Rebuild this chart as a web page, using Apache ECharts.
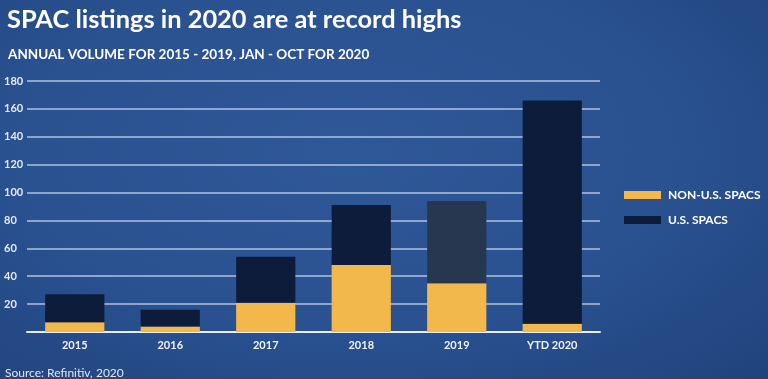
<!DOCTYPE html>
<html><head><meta charset="utf-8">
<script src="https://cdn.jsdelivr.net/npm/echarts@6/dist/echarts.min.js"></script>
<style>
html,body{margin:0;padding:0;width:768px;height:379px;overflow:hidden;}
body{background:radial-gradient(ellipse at 45% 40%, #2f5898 0%, #2a5190 55%, #1f437c 100%);}
#c{width:768px;height:379px;}
</style></head>
<body><div id="c"></div>
<script>
const categories = ['2015','2016','2017','2018','2019','YTD 2020'];
const nonUS = [7, 4, 21, 48, 35, 6];
const us = [20, 12, 33, 43, 59, 160];
const yTicks = [0, 20, 40, 60, 80, 100, 120, 140, 160, 180];
const seriesNames = ['NON-U.S. SPACS', 'U.S. SPACS'];

const FONT = 'Lato';
const chart = echarts.init(document.getElementById('c'), null, {renderer:'canvas'});
chart.setOption({
  backgroundColor: 'transparent',
  textStyle: {fontFamily: FONT},
  title: [
    {text: 'SPAC listings in 2020 are at record highs', left: 2, top: 2,
     textStyle: {color:'#ffffff', fontSize: 25.4, fontWeight: 'bold', fontFamily: FONT}},
    {text: 'ANNUAL VOLUME FOR 2015 - 2019, JAN - OCT FOR 2020', left: 3, top: 43,
     textStyle: {color:'#ffffff', fontSize: 13.5, fontWeight: 'bold', fontFamily: FONT}},
    {text: 'Source: Refinitiv, 2020', left: 0, top: 362,
     textStyle: {color:'#dfe6f2', fontSize: 12, fontWeight: 'normal', fontFamily: FONT}}
  ],
  legend: {
    orient: 'vertical', left: 619, top: 184, itemWidth: 37, itemHeight: 8, itemGap: 13,
    icon: 'rect',
    textStyle: {color:'#ffffff', fontSize: 12, fontWeight: 'bold', fontFamily: FONT, padding:[0,0,0,2]},
    data: seriesNames
  },
  grid: {left: 27, right: 168, top: 81, bottom: 47, containLabel: false},
  xAxis: {
    type: 'category', data: categories,
    axisLine: {show: true, lineStyle: {color:'#e8eef8', width: 2}},
    axisTick: {show: false},
    axisLabel: {color:'#eef2f8', fontSize: 11, fontWeight: 'bold', margin: 8, fontFamily: FONT}
  },
  yAxis: {
    type: 'value', min: yTicks[0], max: yTicks[yTicks.length-1], interval: 20,
    axisLine: {show: false}, axisTick: {show: false},
    splitLine: {lineStyle: {color:'rgba(210,222,245,0.8)', width: 1.5}},
    axisLabel: {color:'#e4eaf4', fontSize: 11, fontWeight: 'bold', align: 'left', margin: 23, fontFamily: FONT,
      formatter: v => v === 0 ? '' : String(v)}
  },
  series: [
    {name: seriesNames[0], type: 'bar', stack: 'total', barWidth: '62%',
     itemStyle: {color: '#f2b84b'}, data: nonUS},
    {name: seriesNames[1], type: 'bar', stack: 'total',
     itemStyle: {color: '#0e1c3b'},
     data: us.map((v, i) => categories[i] === '2019' ? {value: v, itemStyle: {color: '#26374f'}} : v)}
  ]
});
</script></body></html>
